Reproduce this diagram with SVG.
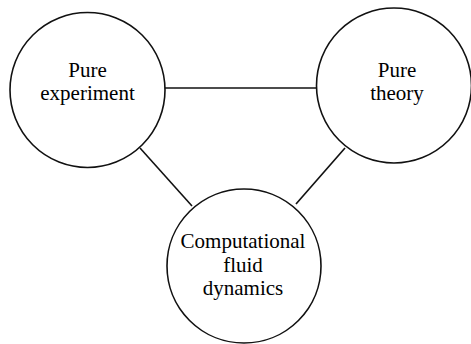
<svg xmlns="http://www.w3.org/2000/svg" width="471" height="344" viewBox="0 0 471 344">
<style>
.n{fill:#fff;stroke:#111;stroke-width:1.6}
.c{stroke:#111;stroke-width:1.6;fill:none}
text{font-family:'Liberation Serif','Times New Roman',serif;font-size:21px;fill:#000;text-anchor:middle}
</style>
<rect width="471" height="344" fill="#fff"/>
<g id="connectors">
<line class="c" x1="165" y1="88" x2="317" y2="88"/>
<line class="c" x1="140" y1="148" x2="192" y2="206"/>
<line class="c" x1="345" y1="148" x2="296" y2="204"/>
</g>
<g id="pure-experiment">
<circle class="n" cx="87.5" cy="90" r="77.5"/>
<text x="87.5" y="77">Pure</text>
<text x="87.5" y="100">experiment</text>
</g>
<g id="pure-theory">
<circle class="n" cx="394" cy="85.5" r="77.5"/>
<text x="397" y="77">Pure</text>
<text x="397" y="100">theory</text>
</g>
<g id="cfd">
<circle class="n" cx="244" cy="266" r="77"/>
<text x="243" y="248">Computational</text>
<text x="243" y="272">fluid</text>
<text x="243" y="295">dynamics</text>
</g>
</svg>
